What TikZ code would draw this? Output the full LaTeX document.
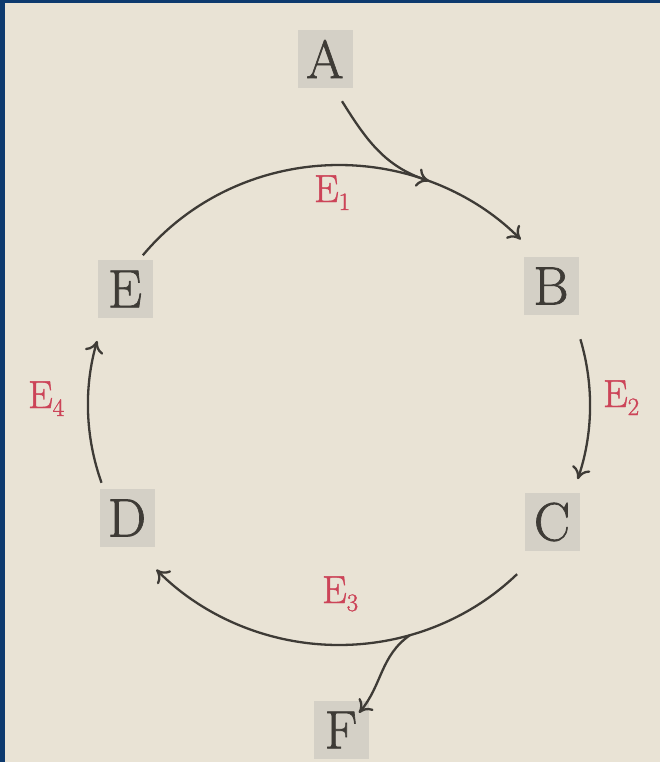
\documentclass[tikz,border=0pt]{standalone}
\usepackage{fontspec}
\newfontfamily\nodefont{Latin Modern Roman}[FakeBold=1.2]
\usetikzlibrary{arrows.meta,calc}
\definecolor{paper}{HTML}{E9E3D5}
\definecolor{frameblue}{HTML}{0D3A6E}
\definecolor{boxgray}{HTML}{D4D0C6}
\definecolor{ink}{HTML}{3E3B36}
\definecolor{lblred}{HTML}{CC4458}
\newcommand{\esub}[1]{E\raisebox{-8pt}{\fontsize{25}{25}\selectfont #1}}
\begin{document}
\begin{tikzpicture}[x=1pt,y=1pt,
  letterbox/.style={fill=boxgray,minimum width=55pt,minimum height=58pt,inner sep=0pt,
    text=ink,font=\nodefont\fontsize{54}{54}\selectfont},
  elabel/.style={text=lblred,anchor=base west,inner sep=0pt,font=\nodefont\fontsize{39}{39}\selectfont},
  arr/.style={draw=ink,line width=2.3pt,-{Computer Modern Rightarrow[length=12pt,width=19pt]}}]
% background and frame
\fill[frameblue] (0,0) rectangle (660,-762);
\fill[paper] (5,-3) rectangle (660,-762);
\useasboundingbox (0,0) rectangle (660,-762);
% nodes
\node[letterbox] (A) at (325,-59) {A};
\node[letterbox] (B) at (551,-286) {B};
\node[letterbox] (C) at (552,-522) {C};
\node[letterbox] (D) at (127,-518) {D};
\node[letterbox] (E) at (125,-289) {E};
\node[letterbox] (F) at (341,-730) {F};
% centre of the cycle
\coordinate (O) at (339,-405);
\coordinate (e1s) at ($(O)+(141.4:251pt and 240pt)$);
\coordinate (e2s) at ($(O)+(15.9:251pt and 240pt)$);
\coordinate (e3s) at ($(O)+(-44.8:251pt and 240pt)$);
\coordinate (e4s) at ($(O)+(198.9:251pt and 240pt)$);
\coordinate (join1) at ($(O)+(69:251pt and 240pt)$);
\coordinate (split3) at ($(O)+(-73.6:251pt and 240pt)$);
% cycle arcs
\draw[arr] (e1s) arc[start angle=141.4,end angle=43.6,x radius=251pt,y radius=240pt];
\draw[arr] (e2s) arc[start angle=15.9,end angle=-18,x radius=251pt,y radius=240pt];
\draw[arr] (e3s) arc[start angle=-44.8,end angle=-136.7,x radius=251pt,y radius=240pt];
\draw[arr] (e4s) arc[start angle=198.9,end angle=164.5,x radius=251pt,y radius=240pt];
% input from A and output to F
\coordinate (aout) at ($(A.south)+(17,-13)$);
\draw[arr] (aout) to[out=-58,in=162] (join1);
\coordinate (fin) at ($(F.north)+(18,-12)$);
\draw[arr] (split3) to[out=215,in=50] (fin);
% labels
\node[elabel] (L1) at (314,-202) {\esub{1}};
\node[elabel] (L2) at (603,-407) {\esub{2}};
\node[elabel] (L3) at (322,-603) {\esub{3}};
\node[elabel] (L4) at (28,-408) {\esub{4}};
\end{tikzpicture}
\end{document}
